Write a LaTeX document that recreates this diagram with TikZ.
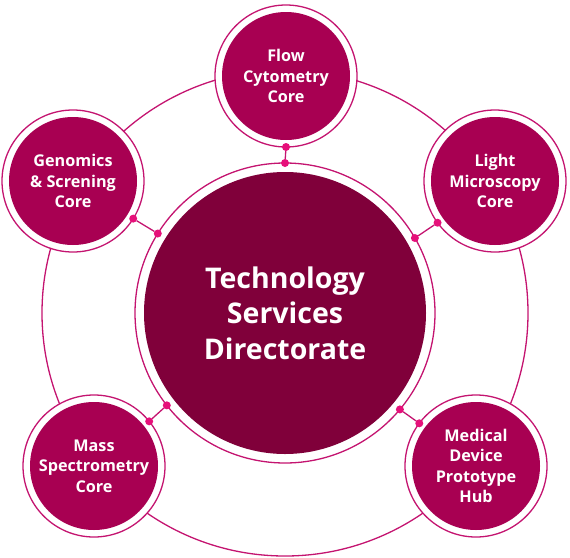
\documentclass[tikz,border=0pt]{standalone}
\usepackage{fontspec}
\setmainfont{Open Sans}
\definecolor{satfill}{RGB}{168,0,82}
\definecolor{tsdfill}{RGB}{128,0,58}
\definecolor{ringcol}{RGB}{196,20,112}
\definecolor{dotcol}{RGB}{230,16,122}
\begin{document}
\begin{tikzpicture}[x=1pt,y=-1pt,
  sat/.style={circle,draw=ringcol,line width=1.3pt,fill=white,minimum size=142pt,inner sep=0pt,outer sep=0pt,
    align=center,text=white,font=\fontsize{16.2}{20.5}\selectfont\bfseries,
    path picture={\fill[satfill] (path picture bounding box.center) circle[radius=64pt];}},
  hub/.style={circle,draw=ringcol,line width=1.3pt,fill=white,minimum size=300pt,inner sep=0pt,outer sep=0pt,
    align=center,text=white,font=\fontsize{28.5}{35.5}\selectfont\bfseries,
    path picture={\fill[tsdfill] (path picture bounding box.center) circle[radius=141pt];}},
  dotnode/.style={circle,fill=dotcol,minimum size=8pt,inner sep=0pt,outer sep=0pt},
  link/.style={draw=ringcol,line width=1.3pt},
  bigring/.style={draw=ringcol,line width=1.3pt}]
\useasboundingbox (0,0) rectangle (570,557);
\coordinate (c) at (285,313);
\draw[bigring] (c) circle[radius=243pt];
\node[hub] (tsd) at (c) {Technology\\Services\\Directorate};
\node[sat] (flow) at (286,76) {Flow\\Cytometry\\Core};
\node[sat] (gen) at (73,181) {Genomics\\\&~Screning\\Core};
\node[sat] (light) at (495,181) {Light\\Microscopy\\Core};
\node[sat] (mass) at (94,466) {Mass\\Spectrometry\\Core};
\node[sat] (med) at (476,466) {Medical\\Device\\Prototype\\Hub};
% connectors
\node[dotnode] (f1) at (tsd.90) {};
\node[dotnode] (f2) at (flow.-90) {};
\draw[link] (f1) -- (f2);
\node[dotnode] (g1) at (tsd.148) {};
\node[dotnode] (g2) at (gen.-32) {};
\draw[link] (g1) -- (g2);
\node[dotnode] (l1) at (tsd.30) {};
\node[dotnode] (l2) at (light.216) {};
\draw[link] (l1) -- (l2);
\node[dotnode] (m1) at (tsd.218) {};
\node[dotnode] (m2) at (mass.39) {};
\draw[link] (m1) -- (m2);
\node[dotnode] (h1) at (tsd.320) {};
\node[dotnode] (h2) at (med.143) {};
\draw[link] (h1) -- (h2);
\end{tikzpicture}
\end{document}
